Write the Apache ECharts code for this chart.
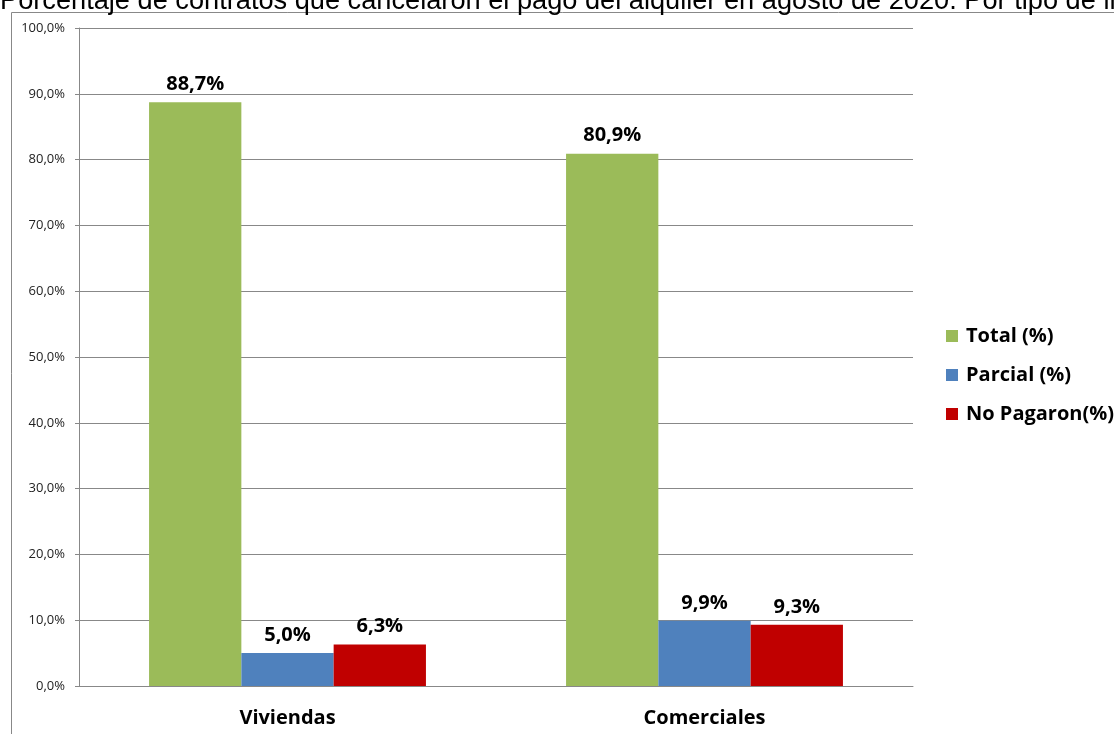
<!DOCTYPE html>
<html>
<head>
<meta charset="utf-8">
<script src="https://cdn.jsdelivr.net/npm/echarts@6/dist/echarts.min.js"></script>
<style>
html,body{margin:0;padding:0;background:#fff;}
#c{width:1114px;height:734px;}
</style>
</head>
<body>
<div id="c"></div>
<script>
const categories = ['Viviendas', 'Comerciales'];
const seriesNames = ['Total (%)', 'Parcial (%)', 'No Pagaron(%)'];
const totalValues = [88.7, 80.9];
const parcialValues = [5.0, 9.9];
const noPagaronValues = [6.3, 9.3];
const titleText = 'Porcentaje de contratos que cancelaron el pago del alquiler en agosto de 2020. Por tipo de inmueble';

const colors = ['#9BBB59', '#4F81BD', '#C00000'];
const fmt = v => v.toFixed(1).replace('.', ',') + '%';
const labelFont = '"Open Sans", "Noto Sans", sans-serif';

const chart = echarts.init(document.getElementById('c'), null, {renderer: 'canvas'});
function mk(name, data, color) {
  return {
    name: name, type: 'bar', data: data, barGap: '0%', barCategoryGap: '33.6%',
    itemStyle: {color: color},
    label: {show: true, position: 'top', distance: 8, formatter: p => fmt(p.value),
      fontFamily: labelFont, fontWeight: 'bold', fontSize: 20, color: '#000'}
  };
}
chart.setOption({
  animation: false,
  color: colors,
  graphic: [
    {type: 'text', left: 0, top: -12, z: 10, style: {text: titleText, font: '27.2px "Liberation Sans", Arial, sans-serif', fill: '#000'}},
    {type: 'line', shape: {x1: 11.5, y1: 12.5, x2: 1114, y2: 12.5}, style: {stroke: '#888', lineWidth: 1}},
    {type: 'line', shape: {x1: 11.5, y1: 12.5, x2: 11.5, y2: 734}, style: {stroke: '#888', lineWidth: 1}}
  ],
  grid: {left: 79, top: 28, right: 1114 - 913, bottom: 734 - 686, containLabel: false},
  legend: {
    orient: 'vertical', left: 941, top: 321, itemGap: 19, itemWidth: 12, itemHeight: 12,
    icon: 'rect',
    textStyle: {fontFamily: labelFont, fontWeight: 'bold', fontSize: 20, color: '#000', padding: [0,0,0,3]},
    data: seriesNames
  },
  xAxis: {
    type: 'category', data: categories,
    axisLine: {lineStyle: {color: '#888'}},
    axisTick: {show: false},
    axisLabel: {fontFamily: labelFont, fontWeight: 'bold', fontSize: 20, color: '#000', margin: 22}
  },
  yAxis: {
    type: 'value', min: 0, max: 100, interval: 10,
    axisLine: {show: true, lineStyle: {color: '#888'}},
    axisTick: {show: true, length: 4, lineStyle: {color: '#888'}},
    splitLine: {lineStyle: {color: '#888'}},
    axisLabel: {formatter: v => v.toFixed(1).replace('.', ',') + '%', fontFamily: labelFont, fontSize: 13, color: '#222', margin: 14}
  },
  series: [
    mk(seriesNames[0], totalValues, colors[0]),
    mk(seriesNames[1], parcialValues, colors[1]),
    mk(seriesNames[2], noPagaronValues, colors[2])
  ]
});
</script>
</body>
</html>
